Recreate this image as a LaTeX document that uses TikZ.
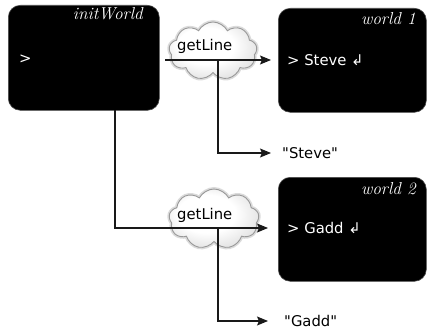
\documentclass[tikz,border=0pt]{standalone}
\usepackage{fontspec}
\setmainfont{DejaVu Sans}[Ligatures=TeXOff]
\newfontfamily\lmitfont{Latin Modern Roman}
\usetikzlibrary{arrows.meta,shapes.symbols}
\pgfdeclareradialshading{cloudshade}{\pgfpoint{-6bp}{6bp}}{color(0bp)=(white); color(16bp)=(white); color(32bp)=(gray!28); color(50bp)=(gray!55)}
\tikzset{
  wbox/.style={fill=black, draw=black!70, line width=0.6pt, rounded corners=12pt, inner sep=0pt, anchor=north west},
  wname/.style={text=white, anchor=base east, inner sep=0pt, font=\fontsize{17.3}{19}\lmitfont\itshape},
  wtext/.style={text=white, anchor=west, inner sep=0pt, font=\fontsize{14.8}{17}\selectfont},
  lbl/.style={anchor=west, inner sep=0pt, font=\fontsize{14.8}{17}\selectfont},
  cloudglow/.style={cloud, cloud puffs=9, cloud puff arc=125, draw=gray!28, line width=4pt, inner sep=0pt},
  cloudbody/.style={cloud, cloud puffs=9, cloud puff arc=125, draw=gray!80, line width=0.9pt, shading=cloudshade, inner sep=0pt},
  conn/.style={draw=black!90, line width=1.1pt, -{Stealth[length=11pt,width=9pt,inset=2pt]}},
}
\begin{document}
\begin{tikzpicture}[x=1pt,y=-1pt]
\useasboundingbox (0,0) rectangle (427,329);
% boxes
\node[wbox, minimum width=151pt, minimum height=105pt] (init) at (8,5) {};
\node[wbox, minimum width=148pt, minimum height=104pt] (w1) at (278,8) {};
\node[wbox, minimum width=148pt, minimum height=104pt] (w2) at (278,177) {};
\node[wname] (initname) at (143,20) {initWorld};
\node[wname] (w1name) at (416,25) {world 1};
\node[wname] (w2name) at (416,194) {world 2};
\node[wtext] (initprompt) at (19,59) {>};
\node[wtext] (w1text) at (287,60) {> Steve ↲};
\node[wtext] (w2text) at (287,228) {> Gadd ↲};
% clouds
\node[cloudglow, minimum width=88pt, minimum height=58pt] (c1g) at (213,51) {};
\node[cloudbody, minimum width=88pt, minimum height=58pt] (c1) at (213,51) {};
\node[cloudglow, minimum width=90pt, minimum height=60pt] (c2g) at (214,219) {};
\node[cloudbody, minimum width=90pt, minimum height=60pt] (c2) at (214,219) {};
\node[lbl] (g1) at (177,46) {getLine};
\node[lbl] (g2) at (177,215) {getLine};
% result labels
\node[lbl] (steve) at (282,153) {"Steve"};
\node[lbl] (gadd) at (284,321) {"Gadd"};
% connector points
\coordinate (s1) at (165,60);
\coordinate (t1) at (271,60);
\coordinate (b1) at (218,60);
\coordinate (s2) at (115,110);
\coordinate (t2) at (268,228);
\coordinate (b2) at (218,228);
\draw[conn] (s1) -- (t1);
\draw[conn] (b1) |- ([xshift=-11pt]steve.west);
\draw[conn] (s2) |- (t2);
\draw[conn] (b2) |- ([xshift=-16pt]gadd.west);
\end{tikzpicture}
\end{document}
